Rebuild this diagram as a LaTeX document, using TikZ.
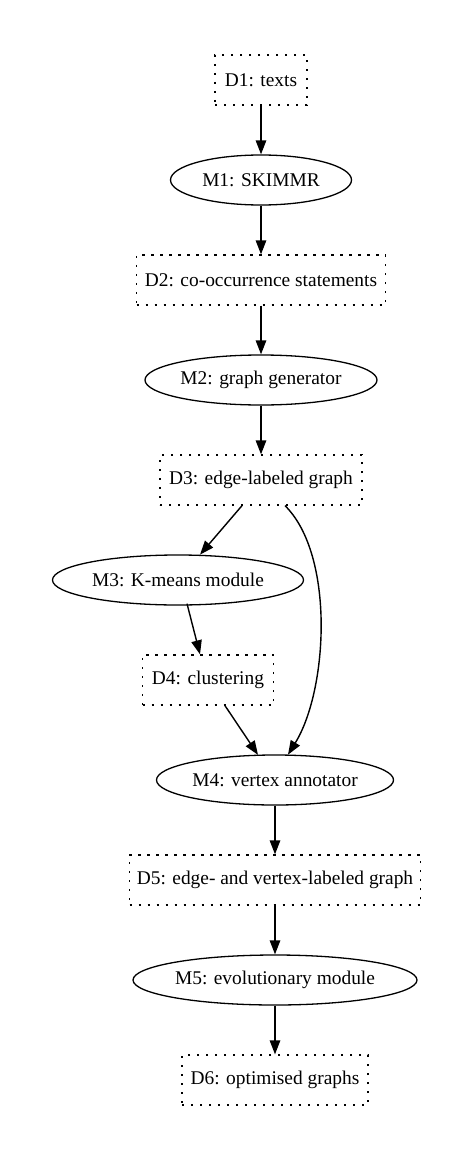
\documentclass[tikz,border=0pt]{standalone}
\usepackage{fontspec}
\setmainfont{Liberation Serif}
\usetikzlibrary{shapes.geometric,arrows.meta,calc}
\begin{document}
\begin{tikzpicture}[x=1pt,y=-1pt,
  every node/.style={font=\fontsize{19.4}{23}\selectfont, inner sep=0pt},
  datum/.style={draw, rectangle, line width=1.3pt, dash pattern=on 2.4pt off 6.6pt, minimum height=50pt},
  module/.style={draw, ellipse, line width=1.3pt, minimum height=50pt},
  arr/.style={line width=1.4pt, -{Triangle[length=14pt,width=10.5pt]}}]
\useasboundingbox (0,0) rectangle (475,1161);
\node[datum, minimum width=92pt]  (D1) at (261,80)  {D1: texts};
\node[module, minimum width=181pt] (M1) at (261,180) {M1: SKIMMR};
\node[datum, minimum width=249pt] (D2) at (261,280) {D2: co-occurrence statements};
\node[module, minimum width=232pt] (M2) at (261,380) {M2: graph generator};
\node[datum, minimum width=202pt] (D3) at (261,480) {D3: edge-labeled graph};
\node[module, minimum width=251pt] (M3) at (178,580) {M3: K-means module};
\node[datum, minimum width=131pt] (D4) at (208,680) {D4: clustering};
\node[module, minimum width=237pt] (M4) at (275,780) {M4: vertex annotator};
\node[datum, minimum width=291pt] (D5) at (275,880) {D5: edge- and vertex-labeled graph};
\node[module, minimum width=284pt] (M5) at (275,980) {M5: evolutionary module};
\node[datum, minimum width=186pt] (D6) at (275,1080) {D6: optimised graphs};
\draw[arr] (D1) -- (M1);
\draw[arr] (M1) -- (D2);
\draw[arr] (D2) -- (M2);
\draw[arr] (M2) -- (D3);
\draw[arr] ($(D3.south)+(-19,0)$) -- ($(M3.north)+(22,0.3)$);
\draw[arr] ($(M3.south)+(9,-2)$) -- ($(D4.north)+(-8,0)$);
\draw[arr] ($(D4.south)+(17,0)$) -- ($(M4.north)+(-17,0.5)$);
\draw[arr] ($(D3.south)+(24,0)$) .. controls (335,555) and (328,690) .. ($(M4.north)+(13,0.3)$);
\draw[arr] (M4) -- (D5);
\draw[arr] (D5) -- (M5);
\draw[arr] (M5) -- (D6);
\end{tikzpicture}
\end{document}
